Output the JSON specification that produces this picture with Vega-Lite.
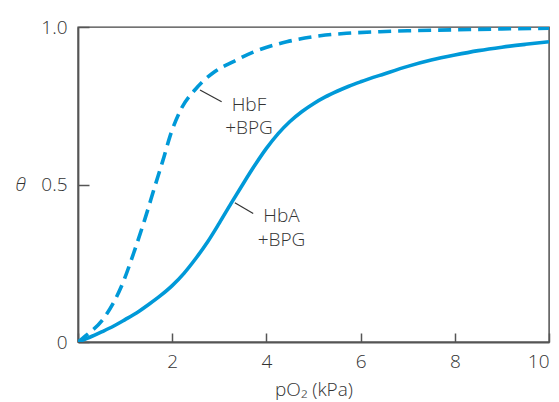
{
  "$schema": "https://vega.github.io/schema/vega-lite/v6.json",
  "width": 471,
  "height": 315,
  "autosize": {"type": "none"},
  "padding": {"left": 78, "top": 27, "right": 10, "bottom": 60},
  "background": "white",
  "config": {
    "font": "Open Sans",
    "view": {"stroke": "#444", "strokeWidth": 1.4},
    "axis": {
      "grid": false,
      "domainColor": "#555",
      "domainWidth": 1.8,
      "tickColor": "#555",
      "tickWidth": 1.5,
      "labelFont": "Open Sans",
      "labelFontSize": 19,
      "labelFontWeight": 300,
      "labelColor": "#333",
      "titleFont": "Open Sans",
      "titleFontSize": 19,
      "titleFontWeight": 300,
      "titleColor": "#333"
    }
  },
  "datasets": {
    "curves": [
      {"series": "HbF", "p": 0, "theta": 0},
      {"series": "HbF", "p": 0.14, "theta": 0.017},
      {"series": "HbF", "p": 0.57, "theta": 0.08},
      {"series": "HbF", "p": 0.92, "theta": 0.176},
      {"series": "HbF", "p": 1.2, "theta": 0.29},
      {"series": "HbF", "p": 1.42, "theta": 0.39},
      {"series": "HbF", "p": 1.63, "theta": 0.493},
      {"series": "HbF", "p": 1.8, "theta": 0.575},
      {"series": "HbF", "p": 1.98, "theta": 0.665},
      {"series": "HbF", "p": 2.19, "theta": 0.74},
      {"series": "HbF", "p": 2.48, "theta": 0.8},
      {"series": "HbF", "p": 2.9, "theta": 0.858},
      {"series": "HbF", "p": 3.3, "theta": 0.89},
      {"series": "HbF", "p": 3.72, "theta": 0.92},
      {"series": "HbF", "p": 4.43, "theta": 0.953},
      {"series": "HbF", "p": 5.14, "theta": 0.972},
      {"series": "HbF", "p": 5.7, "theta": 0.98},
      {"series": "HbF", "p": 6.41, "theta": 0.985},
      {"series": "HbF", "p": 7, "theta": 0.988},
      {"series": "HbF", "p": 8, "theta": 0.991},
      {"series": "HbF", "p": 9, "theta": 0.994},
      {"series": "HbF", "p": 10, "theta": 0.996},
      {"series": "HbA", "p": 0, "theta": 0},
      {"series": "HbA", "p": 0.25, "theta": 0.015},
      {"series": "HbA", "p": 0.5, "theta": 0.032},
      {"series": "HbA", "p": 0.75, "theta": 0.05},
      {"series": "HbA", "p": 1.0, "theta": 0.071},
      {"series": "HbA", "p": 1.25, "theta": 0.093},
      {"series": "HbA", "p": 1.5, "theta": 0.119},
      {"series": "HbA", "p": 1.75, "theta": 0.147},
      {"series": "HbA", "p": 2.0, "theta": 0.179},
      {"series": "HbA", "p": 2.25, "theta": 0.218},
      {"series": "HbA", "p": 2.5, "theta": 0.265},
      {"series": "HbA", "p": 2.75, "theta": 0.3175},
      {"series": "HbA", "p": 3.0, "theta": 0.3775},
      {"series": "HbA", "p": 3.25, "theta": 0.44},
      {"series": "HbA", "p": 3.5, "theta": 0.501},
      {"series": "HbA", "p": 3.75, "theta": 0.56},
      {"series": "HbA", "p": 4.0, "theta": 0.6145},
      {"series": "HbA", "p": 4.25, "theta": 0.6615},
      {"series": "HbA", "p": 4.5, "theta": 0.7},
      {"series": "HbA", "p": 4.75, "theta": 0.731},
      {"series": "HbA", "p": 5.0, "theta": 0.7565},
      {"series": "HbA", "p": 5.25, "theta": 0.778},
      {"series": "HbA", "p": 5.5, "theta": 0.796},
      {"series": "HbA", "p": 5.75, "theta": 0.812},
      {"series": "HbA", "p": 6.0, "theta": 0.826},
      {"series": "HbA", "p": 6.5, "theta": 0.851},
      {"series": "HbA", "p": 7.0, "theta": 0.875},
      {"series": "HbA", "p": 7.5, "theta": 0.895},
      {"series": "HbA", "p": 8.0, "theta": 0.911},
      {"series": "HbA", "p": 8.5, "theta": 0.925},
      {"series": "HbA", "p": 9.0, "theta": 0.936},
      {"series": "HbA", "p": 9.5, "theta": 0.945},
      {"series": "HbA", "p": 10, "theta": 0.953}
    ],
    "leaders": [
      {"x1": 2.59, "y1": 0.8, "x2": 3.05, "y2": 0.763},
      {"x1": 3.33, "y1": 0.442, "x2": 3.72, "y2": 0.408}
    ],
    "labels": [
      {"text": "HbF", "x": 3.63, "y": 0.734},
      {"text": "+BPG", "x": 3.63, "y": 0.659},
      {"text": "HbA", "x": 4.32, "y": 0.382},
      {"text": "+BPG", "x": 4.32, "y": 0.306}
    ]
  },
  "layer": [
    {
      "data": {"name": "curves"},
      "transform": [{"filter": "datum.series === 'HbA'"}],
      "mark": {"type": "line", "color": "#0099d8", "strokeWidth": 3.6, "interpolate": "monotone", "clip": true},
      "encoding": {
        "x": {
          "field": "p", "type": "quantitative",
          "scale": {"domain": [0, 10], "nice": false},
          "axis": {
            "values": [0, 2, 4, 6, 8, 10],
            "labelExpr": "datum.value === 0 ? '' : datum.label",
            "tickSize": -9,
            "labelPadding": 19,
            "title": "pO₂ (kPa)",
            "titlePadding": 9
          }
        },
        "y": {
          "field": "theta", "type": "quantitative",
          "scale": {"domain": [0, 1], "nice": false},
          "axis": {
            "values": [0, 0.5, 1],
            "labelExpr": "datum.value === 0 ? '0' : format(datum.value, '.1f')",
            "tickSize": -11,
            "labelPadding": 22,
            "title": "θ",
            "titleAngle": 0,
            "titleFontStyle": "italic",
            "titleX": -58,
            "titleY": 157,
            "titleAlign": "center",
            "titleBaseline": "middle"
          }
        }
      }
    },
    {
      "data": {"name": "curves"},
      "transform": [{"filter": "datum.series === 'HbF'"}],
      "mark": {"type": "line", "color": "#0099d8", "strokeWidth": 3.6, "strokeDash": [13, 7], "interpolate": "monotone", "clip": true},
      "encoding": {
        "x": {"field": "p", "type": "quantitative"},
        "y": {"field": "theta", "type": "quantitative"}
      }
    },
    {
      "data": {"name": "leaders"},
      "mark": {"type": "rule", "color": "#333", "strokeWidth": 1.2},
      "encoding": {
        "x": {"field": "x1", "type": "quantitative"},
        "y": {"field": "y1", "type": "quantitative"},
        "x2": {"field": "x2"},
        "y2": {"field": "y2"}
      }
    },
    {
      "data": {"name": "labels"},
      "mark": {"type": "text", "font": "Open Sans", "fontSize": 19, "fontWeight": 300, "color": "#333", "align": "center", "baseline": "alphabetic"},
      "encoding": {
        "x": {"field": "x", "type": "quantitative"},
        "y": {"field": "y", "type": "quantitative"},
        "text": {"field": "text"}
      }
    }
  ]
}
